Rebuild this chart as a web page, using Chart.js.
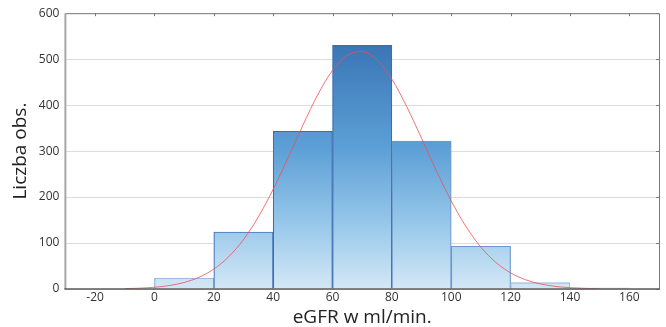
<!DOCTYPE html>
<html><head><meta charset="utf-8">
<script src="https://cdn.jsdelivr.net/npm/chart.js@4.4.1/dist/chart.umd.min.js"></script>
<style>html,body{margin:0;padding:0;background:#fff}#wrap{width:666px;height:327px}</style>
</head><body><div id="wrap"><canvas id="c" width="666" height="327"></canvas></div>
<script>
// Histogram bins (lower edge, ml/min) and counts
const binStarts = [0, 20, 40, 60, 80, 100, 120, 140];
const binWidth = 20;
const counts = [24, 124, 343, 530, 322, 93, 14, 2];
// Fitted normal curve
const curveX = [-10,-5,0,5,10,15,20,25,30,35,40,45,50,55,60,65,70,75,80,85,90,95,100,105,110,115,120,125,130,135,140,145,150];
const curveY = [0.8,1.8,3.8,7.5,14.2,25.4,43.3,70,107.4,156.7,216.9,285.1,356.1,422.2,475.5,508.5,516.5,498.1,456.3,396.9,327.8,257.2,191.6,135.6,91,58.1,35.2,20.2,11.1,5.7,2.8,1.3,0.6];
const xTicks = [-20, 0, 20, 40, 60, 80, 100, 120, 140, 160];
const yTicks = [0, 100, 200, 300, 400, 500, 600];

const barBorders = ['#8fb2dd','#3f74b8','#3a6db2','#3a6db2','#6e98cc','#6e98cc','#9ab9e0','#3a5fae'];

const framePlugin = {
  id: 'frame',
  afterDatasetsDraw(chart) {
    const {ctx, chartArea: a, scales} = chart;
    ctx.save();
    ctx.strokeStyle = '#7a7a7a';
    ctx.lineWidth = 1;
    ctx.beginPath();
    ctx.moveTo(a.left, a.top + 0.5); ctx.lineTo(a.right + 0.5, a.top + 0.5);
    ctx.lineTo(a.right + 0.5, a.bottom);
    ctx.stroke();
    ctx.beginPath();
    xTicks.forEach(v => { const p = Math.round(scales.x.getPixelForValue(v)) + 0.5; ctx.moveTo(p, a.top); ctx.lineTo(p, a.top + 3); });
    yTicks.forEach(v => { const p = Math.round(scales.y.getPixelForValue(v)) + 0.5; ctx.moveTo(a.right, p); ctx.lineTo(a.right - 3, p); });
    ctx.stroke();
    ctx.strokeStyle = '#a8a8a8'; ctx.lineWidth = 2;
    ctx.beginPath(); ctx.moveTo(a.left, a.top); ctx.lineTo(a.left, a.bottom); ctx.stroke();
    ctx.strokeStyle = '#5a5a5a'; ctx.lineWidth = 1.5;
    ctx.beginPath(); ctx.moveTo(a.left - 1, a.bottom); ctx.lineTo(a.right + 1, a.bottom); ctx.stroke();
    ctx.restore();
  }
};

function barGradient(context) {
  const chart = context.chart;
  const a = chart.chartArea;
  if (!a) return '#7fb3df';
  const y = chart.scales.y;
  const g = chart.ctx.createLinearGradient(0, y.getPixelForValue(560), 0, a.bottom);
  g.addColorStop(0, '#3670b2');
  g.addColorStop(0.45, '#5c9fd6');
  g.addColorStop(0.75, '#98c8ea');
  g.addColorStop(1, '#d4e8f6');
  return g;
}

new Chart(document.getElementById('c'), {
  data: {
    datasets: [
      {
        type: 'line',
        data: curveX.map((x, i) => ({x, y: curveY[i]})),
        borderColor: 'rgba(238,80,85,0.8)',
        borderWidth: 1,
        pointRadius: 0,
        cubicInterpolationMode: 'monotone',
        fill: false,
        order: 0
      },
      {
        type: 'bar',
        data: binStarts.map((s, i) => ({x: s + binWidth / 2, y: counts[i]})),
        backgroundColor: barGradient,
        borderColor: barBorders,
        borderWidth: 1.2,
        borderSkipped: 'bottom',
        barPercentage: 1,
        categoryPercentage: 1,
        grouped: false,
        order: 1
      }
    ]
  },
  options: {
    animation: false,
    responsive: false,
    maintainAspectRatio: false,
    layout: {padding: {top: 0, right: 7, left: 9, bottom: 0}},
    plugins: {legend: {display: false}, tooltip: {enabled: false}},
    scales: {
      x: {
        type: 'linear',
        offset: false,
        min: -30, max: 170,
        afterBuildTicks: s => { s.ticks = xTicks.map(v => ({value: v})); },
        grid: {display: false, drawTicks: false, offset: false},
        border: {display: false},
        ticks: {font: {family: 'Open Sans', size: 12, lineHeight: 1}, color: '#333', padding: 3, maxRotation: 0},
        title: {display: true, text: 'eGFR w ml/min.', font: {family: 'Open Sans', size: 19, lineHeight: 1}, color: '#222', padding: {top: 1, bottom: 0}}
      },
      y: {
        min: 0, max: 600,
        afterBuildTicks: s => { s.ticks = yTicks.map(v => ({value: v})); },
        grid: {color: '#dddddd', lineWidth: 1, drawTicks: false},
        border: {display: false},
        ticks: {font: {family: 'Open Sans', size: 12}, color: '#333', padding: 6},
        title: {display: true, text: 'Liczba obs.', font: {family: 'Open Sans', size: 19}, color: '#222', padding: {top: 0, bottom: 1}}
      }
    }
  },
  plugins: [framePlugin]
});
</script></body></html>
